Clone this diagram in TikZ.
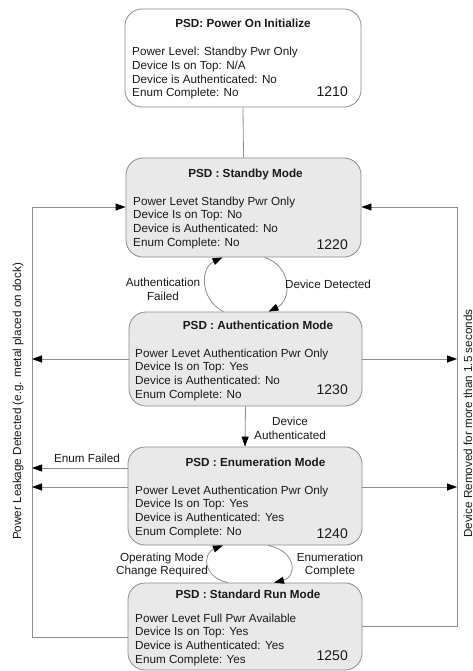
\documentclass[tikz,border=0pt]{standalone}
\usepackage{fontspec}
\setmainfont{Liberation Sans}
\usetikzlibrary{arrows.meta,calc}
\definecolor{boxgray}{HTML}{8C8C8C}
\definecolor{linegray}{HTML}{8E8E8E}
\definecolor{boxfill}{HTML}{E9E9E9}
\definecolor{txt}{HTML}{1A1A1A}
\begin{document}
\begin{tikzpicture}[x=1pt,y=-1pt,
  box/.style={draw=boxgray, line width=0.8pt, rounded corners=17pt, inner sep=0pt},
  ttl/.style={font=\bfseries\fontsize{11.7}{13.7}\selectfont, anchor=base, inner sep=0pt, text=txt},
  body/.style={font=\fontsize{11.7}{13.7}\selectfont, anchor=base west, inner sep=0pt, text=txt},
  num/.style={font=\fontsize{14}{16}\selectfont, anchor=base east, inner sep=0pt, text=txt},
  lbl/.style={font=\fontsize{11.7}{13.7}\selectfont, align=center, inner sep=0pt, text=txt},
  conn/.style={draw=linegray, line width=0.8pt},
  arr/.style={-{Triangle[length=10pt,width=7pt,color=black]}}
]
\useasboundingbox (0,0) rectangle (473,671);
\clip (0,0) rectangle (473,671);
\fill[white] (0,0) rectangle (473,671);

% boxes
\node[box, fill=white, minimum width=236pt, minimum height=98pt] (b1) at (243,58) {};
\node[box, fill=boxfill, minimum width=235pt, minimum height=99pt] (b2) at (243.5,207.5) {};
\node[box, fill=boxfill, minimum width=233pt, minimum height=94pt] (b3) at (245.5,359) {};
\node[box, fill=boxfill, minimum width=234pt, minimum height=98pt] (b4) at (245,496) {};
\node[box, fill=boxfill, minimum width=234pt, minimum height=87pt] (b5) at (245,626.5) {};

% box 1
\node[ttl] (b1t) at (243,28) {PSD: Power On Initialize};
\node[body] (b1a) at (132,56) {Power Level: Standby Pwr Only};
\node[body] (b1b) at (132,69.7) {Device Is on Top: N/A};
\node[body] (b1c) at (132,83.4) {Device is Authenticated: No};
\node[body] (b1d) at (132,97) {Enum Complete: No};
\node[num] (b1n) at (348,97) {1210};

% box 2
\node[ttl] (b2t) at (245.5,177) {PSD : Standby Mode};
\node[body] (b2a) at (133,205) {Power Levet Standby Pwr Only};
\node[body] (b2b) at (133,218.7) {Device Is on Top: No};
\node[body] (b2c) at (133,232.4) {Device is Authenticated: No};
\node[body] (b2d) at (133,246) {Enum Complete: No};
\node[num] (b2n) at (348,249) {1220};

% box 3
\node[ttl] (b3t) at (258,329) {PSD : Authentication Mode};
\node[body] (b3a) at (135,357) {Power Levet Authentication Pwr Only};
\node[body] (b3b) at (135,370.7) {Device Is on Top: Yes};
\node[body] (b3c) at (135,384.4) {Device is Authenticated: No};
\node[body] (b3d) at (135,398) {Enum Complete: No};
\node[num] (b3n) at (348,394) {1230};

% box 4
\node[ttl] (b4t) at (255.5,466) {PSD : Enumeration Mode};
\node[body] (b4a) at (135,494) {Power Levet Authentication Pwr Only};
\node[body] (b4b) at (135,507.7) {Device Is on Top: Yes};
\node[body] (b4c) at (135,521.4) {Device is Authenticated: Yes};
\node[body] (b4d) at (135,535) {Enum Complete: No};
\node[num] (b4n) at (348,538) {1240};

% box 5
\node[ttl] (b5t) at (248,598) {PSD : Standard Run Mode};
\node[body] (b5a) at (135,622) {Power Levet Full Pwr Available};
\node[body] (b5b) at (135,635.7) {Device Is on Top: Yes};
\node[body] (b5c) at (135,649.4) {Device is Authenticated: Yes};
\node[body] (b5d) at (135,663) {Enum Complete: Yes};
\node[num] (b5n) at (348,660) {1250};

% frame coordinates
\coordinate (lt) at (32,207);
\coordinate (lb) at (32,637);
\coordinate (rt) at (457,207);
\coordinate (rb) at (457,626);
\coordinate (l3) at (32,359);
\coordinate (r3) at (457,359);
\coordinate (l4a) at (32,468);
\coordinate (l4b) at (32,487);
\coordinate (r4) at (457,487);

% connectors
\draw[conn] (b1.south) -- (b2.north);
\draw[conn, arr] (b5.west |- lb) -- (lb) -- (lt) -- (b2.west |- lt);
\draw[conn, arr] (b5.east |- rb) -- (rb) -- (rt) -- (b2.east |- rt);
\draw[conn, arr] (b3.west |- l3) -- (l3);
\draw[conn, arr] (b3.east |- r3) -- (r3);
\draw[conn, arr] (b4.west |- l4a) -- (l4a);
\draw[conn, arr] (b4.west |- l4b) -- (l4b);
\draw[conn, arr] (b4.east |- r4) -- (r4);
\draw[conn, arr] (b3.south) -- (b4.north);

% loops
\draw[conn, arr] ($(b3.north)+(-22,0)$) .. controls (200,300) and (200,268) .. ($(b2.south)+(-21,0)$);
\draw[conn, arr] ($(b2.south)+(21,0)$) .. controls (292,266) and (292,300) .. ($(b3.north)+(23,0)$);
\draw[conn, arr] ($(b5.north)+(-17,0)$) .. controls (202,577) and (203,553) .. ($(b4.south)+(-22,0)$);
\draw[conn, arr] ($(b4.south)+(23,0)$) .. controls (297,551) and (297,577) .. ($(b5.north)+(29,0)$);

% labels
\node[lbl] (lf1) at (163,289) {Authentication\\Failed};
\node[lbl] (ld1) at (328,284) {Device Detected};
\node[lbl] (lda) at (290,428) {Device\\Authenticated};
\node[lbl] (lef) at (87,458) {Enum Failed};
\node[lbl] (lom) at (162,565) {Operating Mode\\Change Required};
\node[lbl] (lec) at (330,565) {Enumeration\\Complete};
\node[lbl, rotate=90, anchor=base west] (lpl) at (21,540) {Power Leakage Detected (e.g. metal placed on dock)};
\node[lbl, rotate=90, anchor=base west] (ldr) at (472,538) {Device Removed for more than 1.5 seconds};
\end{tikzpicture}
\end{document}
